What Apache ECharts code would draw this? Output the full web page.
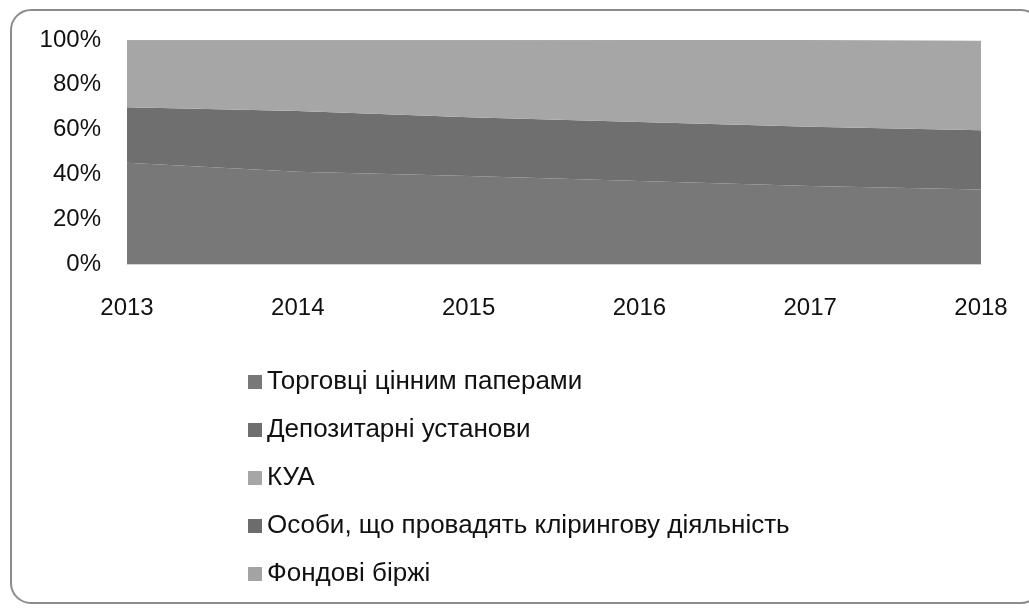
<!DOCTYPE html>
<html>
<head>
<meta charset="utf-8">
<script src="https://cdn.jsdelivr.net/npm/echarts@6/dist/echarts.min.js"></script>
<style>
  html, body { margin: 0; padding: 0; background: #fff; }
  #chart { width: 1029px; height: 608px; }
</style>
</head>
<body>
<div id="chart"></div>
<script>
var years = ['2013', '2014', '2015', '2016', '2017', '2018']
var yTicks = [0, 20, 40, 60, 80, 100]

// shares, %
var traders = [45.2, 41.2, 39.3, 37.0, 34.8, 33.3]
var depositary = [24.8, 27.1, 26.2, 26.4, 26.5, 26.4]
var kua = [29.5, 31.2, 34.1, 36.3, 38.4, 40.0]
var clearing = [0.3, 0.3, 0.2, 0.2, 0.2, 0.2]
var exchanges = [0.2, 0.2, 0.2, 0.1, 0.1, 0.1]

var names = [
  'Торговці цінним паперами',
  'Депозитарні установи',
  'КУА',
  'Особи, що провадять клірингову діяльність',
  'Фондові біржі'
]
var colors = ['#787878', '#6f6f6f', '#a6a6a6', '#6c6c6c', '#a3a3a3']

function area(name, data, color) {
  return {
    name: name,
    type: 'line',
    stack: 'all',
    data: data,
    symbol: 'none',
    smooth: false,
    lineStyle: { width: 0, color: color },
    itemStyle: { color: color },
    areaStyle: { color: color, opacity: 1 }
  }
}

var chart = echarts.init(document.getElementById('chart'))
chart.setOption({
  animation: false,
  graphic: [{
    type: 'rect',
    shape: { x: 11, y: 10, width: 1030, height: 593, r: 20 },
    style: { fill: 'none', stroke: '#8c8c8c', lineWidth: 2 },
    silent: true
  }],
  grid: { left: 127, right: 48, top: 40, bottom: 344 },
  xAxis: {
    type: 'category',
    data: years,
    boundaryGap: false,
    axisLine: { lineStyle: { color: '#d4d4d4' } },
    axisTick: { show: false },
    axisLabel: {
      margin: 32,
      fontFamily: 'Liberation Sans',
      fontSize: 24,
      color: '#111'
    },
    splitLine: { show: false }
  },
  yAxis: {
    type: 'value',
    min: yTicks[0],
    max: yTicks[yTicks.length - 1],
    interval: 20,
    axisLine: { show: false },
    axisTick: { show: false },
    splitLine: { show: false },
    axisLabel: {
      margin: 26,
      formatter: '{value}%',
      fontFamily: 'Liberation Sans',
      fontSize: 24,
      color: '#111'
    }
  },
  legend: {
    orient: 'vertical',
    left: 243,
    top: 362,
    icon: 'rect',
    itemWidth: 14,
    itemHeight: 14,
    itemGap: 18,
    data: names,
    textStyle: {
      fontFamily: 'Liberation Sans',
      fontSize: 26,
      lineHeight: 30,
      color: '#111',
      padding: [0, 0, 0, 0]
    }
  },
  series: [
    area(names[0], traders, colors[0]),
    area(names[1], depositary, colors[1]),
    area(names[2], kua, colors[2]),
    area(names[3], clearing, colors[3]),
    area(names[4], exchanges, colors[4])
  ]
})
</script>
</body>
</html>
